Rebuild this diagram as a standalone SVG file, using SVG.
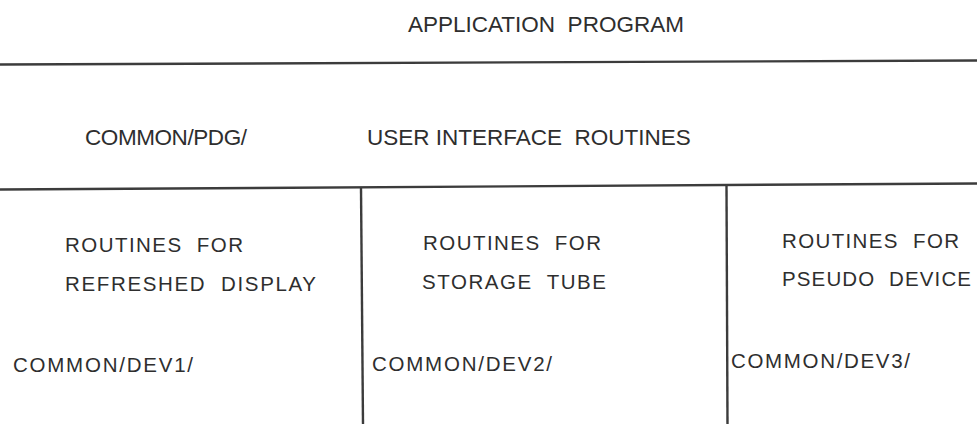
<svg xmlns="http://www.w3.org/2000/svg" width="977" height="424" viewBox="0 0 977 424">
  <style>
    .rule { stroke: #3c3c3c; stroke-width: 2.4; fill: none; stroke-linecap: butt; }
    .lbl  { font-family: "Liberation Sans", Arial, sans-serif; fill: #2e2e2e; }
    .top  { font-size: 22.5px; }
    .cell { font-size: 20.5px; }
  </style>

  <rect width="977" height="424" fill="#ffffff"/>

  <!-- layer separators and column dividers -->
  <g id="rules">
    <line class="rule" x1="0" y1="64.5" x2="977" y2="60.5"/>
    <line class="rule" x1="0" y1="189.5" x2="977" y2="183.5"/>
    <line class="rule" x1="361" y1="188" x2="363" y2="424"/>
    <line class="rule" x1="726.5" y1="185.5" x2="727.5" y2="424"/>
  </g>

  <!-- top layer -->
  <g id="application">
    <text class="lbl top" x="408" y="32" xml:space="preserve">APPLICATION  PROGRAM</text>
  </g>

  <!-- interface layer -->
  <g id="interface">
    <text class="lbl top" x="85" y="145" textLength="162" lengthAdjust="spacing">COMMON/PDG/</text>
    <text class="lbl top" x="367" y="145" xml:space="preserve">USER INTERFACE  ROUTINES</text>
  </g>

  <!-- device layer, column 1 -->
  <g id="dev1">
    <text class="lbl cell" x="65" y="252" textLength="178" lengthAdjust="spacing" xml:space="preserve">ROUTINES  FOR</text>
    <text class="lbl cell" x="65" y="291" textLength="251" lengthAdjust="spacing" xml:space="preserve">REFRESHED  DISPLAY</text>
    <text class="lbl cell" x="13" y="372" textLength="180" lengthAdjust="spacing">COMMON/DEV1/</text>
  </g>

  <!-- device layer, column 2 -->
  <g id="dev2">
    <text class="lbl cell" x="423" y="250" textLength="178" lengthAdjust="spacing" xml:space="preserve">ROUTINES  FOR</text>
    <text class="lbl cell" x="422" y="289" textLength="184" lengthAdjust="spacing" xml:space="preserve">STORAGE  TUBE</text>
    <text class="lbl cell" x="372" y="371" textLength="180" lengthAdjust="spacing">COMMON/DEV2/</text>
  </g>

  <!-- device layer, column 3 -->
  <g id="dev3">
    <text class="lbl cell" x="782" y="248" textLength="177" lengthAdjust="spacing" xml:space="preserve">ROUTINES  FOR</text>
    <text class="lbl cell" x="782" y="286" textLength="189" lengthAdjust="spacing" xml:space="preserve">PSEUDO  DEVICE</text>
    <text class="lbl cell" x="731" y="368" textLength="179" lengthAdjust="spacing">COMMON/DEV3/</text>
  </g>
</svg>
